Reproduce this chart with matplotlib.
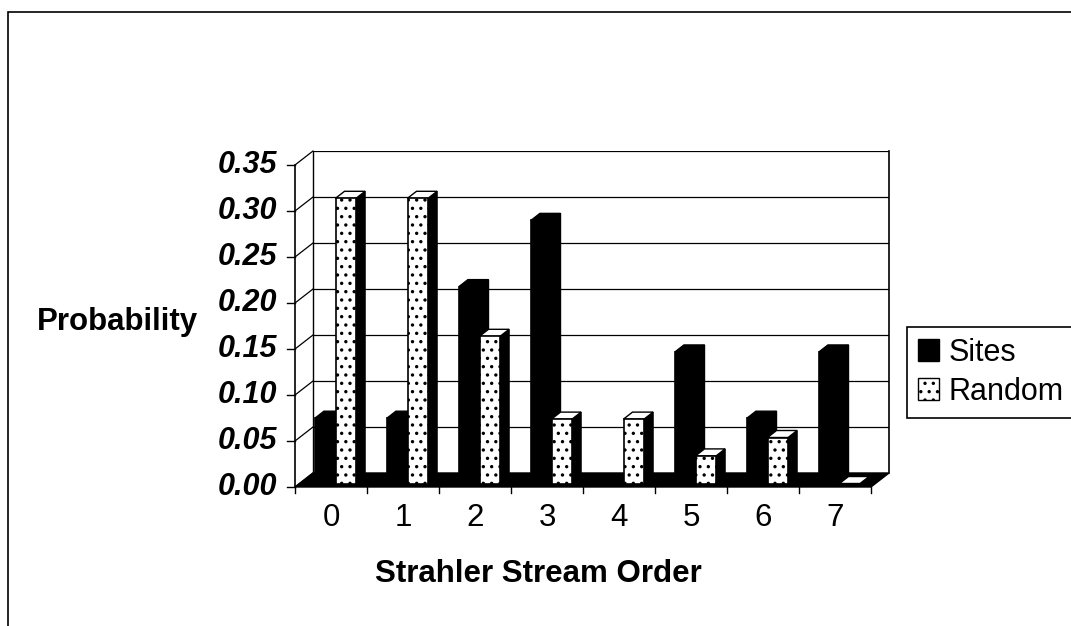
import matplotlib.pyplot as plt
from matplotlib.patches import Rectangle, Patch

plt.rcParams['font.family'] = ['Liberation Sans', 'DejaVu Sans']
plt.rcParams['hatch.linewidth'] = 1.2

# data (probabilities)
orders = ['0', '1', '2', '3', '4', '5', '6', '7']
sites = [0.071, 0.071, 0.214, 0.286, 0.0, 0.143, 0.071, 0.143]
random_pts = [0.31, 0.31, 0.16, 0.07, 0.07, 0.03, 0.05, 0.00]
yticks = [0.00, 0.05, 0.10, 0.15, 0.20, 0.25, 0.30, 0.35]

# fake 3d: depth offset of the whole plot in data units
DX = 0.25
DY = 0.0152
f = 0.25   # where bar front sits in the depth
d = 0.5    # bar depth
w = 1 / 3.5  # bar width (gap width 150%)
ymax = yticks[-1]
n = len(orders)

fig = plt.figure(figsize=(10.71, 6.26), dpi=100)
ax = fig.add_axes([295 / 1071, (626 - 487) / 626, 594 / 1071, (487 - 151) / 626])
ax.set_xlim(0, n + DX)
ax.set_ylim(0, ymax + DY)
ax.set_axis_off()

# outer chart border (cut off at right/bottom in the original)
fig.add_artist(Rectangle((8 / 1071, -0.5), 2, 1.5 - 12 / 626, transform=fig.transFigure,
                         fill=False, edgecolor='black', lw=1.2))

# back wall + gridlines
ax.fill([DX, n + DX, n + DX, DX], [DY, DY, ymax + DY, ymax + DY], color='white', zorder=0)
for v in yticks:
    ax.plot([DX, n + DX], [v + DY, v + DY], color='black', lw=0.9, zorder=1)
    ax.plot([0, DX], [v, v + DY], color='black', lw=0.9, zorder=1, clip_on=False)
    ax.plot([-8 / 72, 0], [v, v], color='black', lw=1, clip_on=False)
    ax.annotate(f'{v:.2f}', (0, v), xytext=(-13, 0), textcoords='offset points',
                ha='right', va='center', fontsize=22, fontweight='bold', fontstyle='italic')
ax.plot([DX, DX], [DY, ymax + DY], color='black', lw=1, zorder=1)
ax.plot([n + DX, n + DX], [DY, ymax + DY], color='black', lw=1.2, zorder=1, clip_on=False)
ax.plot([0, 0], [0, ymax], color='black', lw=1.2, zorder=5, clip_on=False)

# floor
ax.fill([0, n, n + DX, DX], [0, 0, DY, DY], color='black', zorder=2, clip_on=False)

# x ticks and labels
for i in range(n + 1):
    ax.plot([i, i], [0, -6 / 920], color='black', lw=1, clip_on=False)
for i, lab in enumerate(orders):
    ax.annotate(lab, (i + 0.5, 0), xytext=(0, -22), textcoords='offset points',
                ha='center', va='center', fontsize=22.5)


def bars3d(vals, k, face, hatch, z):
    x0 = [i + 0.5 - w + k * w + f * DX for i in range(n)]
    y0 = f * DY
    for x, h in zip(x0, vals):
        # side face
        ax.fill([x + w, x + w + d * DX, x + w + d * DX, x + w],
                [y0, y0 + d * DY, y0 + h + d * DY, y0 + h],
                facecolor='black', edgecolor='black', lw=1, zorder=z)
        # top face
        ax.fill([x, x + w, x + w + d * DX, x + d * DX],
                [y0 + h, y0 + h, y0 + h + d * DY, y0 + h + d * DY],
                facecolor=face, edgecolor='black', lw=1, zorder=z)
    return ax.bar(x0, vals, width=w, bottom=y0, align='edge', color=face,
                  edgecolor='black', hatch=hatch, lw=1.2, zorder=z + 0.1)


b1 = bars3d(sites, 0, 'black', None, 3)
b2 = bars3d(random_pts, 1, 'white', '..', 3.2)

# axis titles
fig.text(37 / 1071, 1 - 322 / 626, 'Probability', ha='left', va='center',
         fontsize=22.5, fontweight='bold')
fig.text(538 / 1071, 1 - 574 / 626, 'Strahler Stream Order', ha='center', va='center',
         fontsize=22.5, fontweight='bold')

# legend
leg = fig.legend([Patch(facecolor='black', edgecolor='black'),
                  Patch(facecolor='white', edgecolor='black', hatch='..')],
                 ['Sites', 'Random'], loc='upper left',
                 bbox_to_anchor=(907 / 1071, 1 - 327 / 626), fontsize=22,
                 frameon=True, fancybox=False, edgecolor='black', framealpha=1,
                 handlelength=0.7, handleheight=0.7, handletextpad=0.3,
                 borderpad=0.35, labelspacing=0.3, borderaxespad=0)
leg.get_frame().set_linewidth(1.2)

fig.savefig('out.png', dpi=100)
